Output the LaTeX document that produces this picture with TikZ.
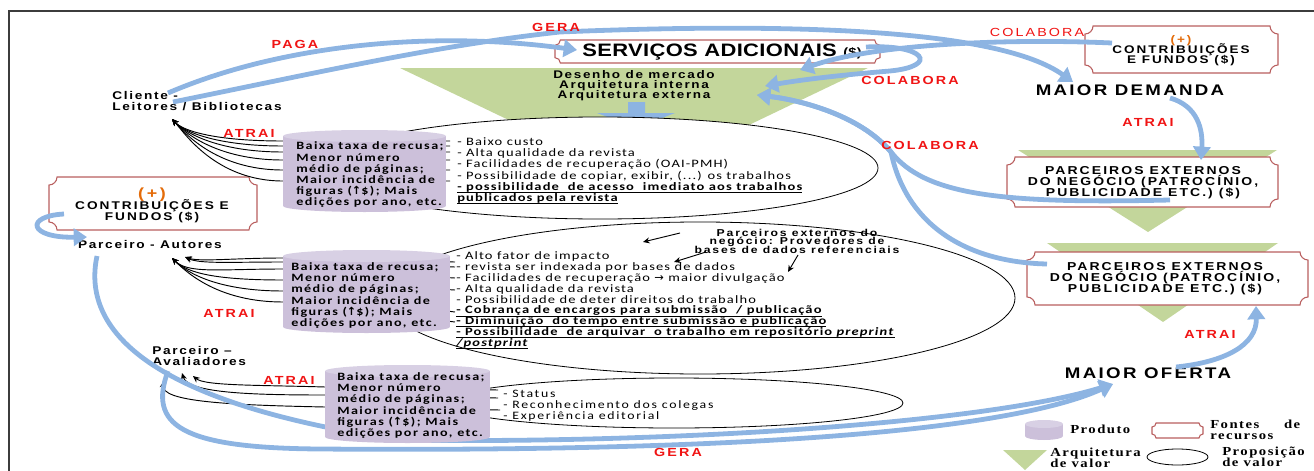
\documentclass[tikz,border=0pt]{standalone}
\usepackage{fontspec}
\usetikzlibrary{arrows.meta,shapes.geometric}
\setmainfont{Carlito}
\lineskiplimit=-20pt
\newfontfamily\fA[FakeStretch=1.22,LetterSpace=15]{Liberation Sans}
\newfontfamily\fAL[FakeStretch=1.22,LetterSpace=18]{Liberation Sans}
\newfontfamily\fAP[FakeStretch=1.22,LetterSpace=18]{Liberation Sans}
\newfontfamily\fAS[FakeStretch=1.22,LetterSpace=2]{Liberation Sans}
\newfontfamily\fC[FakeStretch=1.28,LetterSpace=10]{Carlito}
\newfontfamily\fCB[FakeStretch=1.26,LetterSpace=13]{Carlito}
\newfontfamily\fCW[FakeStretch=1.22,LetterSpace=15]{Carlito}
\newfontfamily\fS[FakeStretch=1.2,LetterSpace=12]{Liberation Serif}
\newfontfamily\fD{DejaVu Sans}
\definecolor{arrblue}{RGB}{141,180,226}
\definecolor{archgreen}{RGB}{195,214,155}
\definecolor{cylbody}{RGB}{204,192,218}
\definecolor{cyltop}{RGB}{216,208,228}
\definecolor{plqred}{RGB}{185,95,95}
\definecolor{lblred}{RGB}{240,20,20}
\definecolor{plusor}{RGB}{228,108,10}
\definecolor{framegray}{RGB}{60,60,60}
\newcommand\drawplaque[2]{%
 \draw[plaque] ([xshift=#2]#1.north west) -- ([xshift=-#2]#1.north east)
   arc[start angle=180, end angle=270, radius=#2] -- ([yshift=#2]#1.south east)
   arc[start angle=90, end angle=180, radius=#2] -- ([xshift=#2]#1.south west)
   arc[start angle=0, end angle=90, radius=#2] -- ([yshift=-#2]#1.north west)
   arc[start angle=270, end angle=360, radius=#2] -- cycle;}
\newcommand\ulx[1]{\underline{\smash{#1}}}
\newcommand\cyltxt{Baixa taxa de recusa;\\Menor número\\médio de páginas;\\Maior incidência de\\figuras ({\fD ↑}\$); Mais\\edições por ano, etc.}
\begin{document}
\begin{tikzpicture}[x=0.75pt,y=-0.75pt,
  barrow/.style={draw=arrblue,line width=3.6pt,-{Triangle[length=10pt,width=13pt]}},
  blk/.style={draw=black,line width=0.7pt,-{Stealth[length=5pt,width=4.5pt]}},
  lbl/.style={text=lblred,font=\fAL\bfseries\fontsize{8.8}{9}\selectfont,inner sep=0pt},
  lblr/.style={text=lblred,font=\fAL\fontsize{8.8}{9}\selectfont,inner sep=0pt},
  plq/.style={draw=none,inner sep=0pt,outer sep=0pt},
  plaque/.style={draw=plqred,line width=0.8pt,fill=white},
  prop/.style={ellipse,draw=black,line width=0.6pt,fill=white,inner sep=0pt,outer sep=0pt},
  actor/.style={font=\fA\bfseries\fontsize{8.4}{8.25}\selectfont,align=left,inner sep=0pt},
  big/.style={font=\fA\bfseries\fontsize{11.5}{12}\selectfont,inner sep=0pt},
  ptext/.style={font=\fAP\bfseries\fontsize{8.6}{8.25}\selectfont,align=center,inner sep=0pt},
  etext/.style={font=\fC\fontsize{8.5}{8.4}\selectfont,align=left,inner sep=0pt,anchor=west},
  ctext/.style={font=\fCB\bfseries\fontsize{8.4}{8.4}\selectfont,align=left,inner sep=0pt,anchor=west},
  legtext/.style={font=\fS\bfseries\fontsize{9.2}{8.25}\selectfont,align=left,inner sep=0pt,anchor=west},
]
\useasboundingbox (0,0) rectangle (1314,471);
% frame
\draw[framegray,line width=1pt] (9,471) -- (9,11) -- (1314,11);
% value architecture triangles
\fill[archgreen] (400,68) -- (868,68) -- (634,180) -- cycle;
\fill[archgreen] (1018,150) -- (1277,150) -- (1148,232) -- cycle;
\fill[archgreen] (1047,243) -- (1278,243) -- (1163,322) -- cycle;
\node[font=\fA\bfseries\fontsize{8.3}{7.5}\selectfont,align=center,inner sep=0pt] (arq) at (634,86) {Desenho de mercado\\Arquitetura interna\\Arquitetura externa};
\fill[arrblue] (628,102) -- (645,102) -- (645,113) -- (675,113) -- (636,128) -- (597,113) -- (628,113) -- cycle;
% resource plaques
\node[plq,minimum width=243.75pt,minimum height=17.25pt] (servicos) at (717.5,51.5) {};
\drawplaque{servicos}{4pt}
\node[font=\fAS\bfseries\fontsize{13.5}{14}\selectfont,inner sep=0pt] (servicosT) at (722,52) {SERVIÇOS ADICIONAIS {\fontsize{9}{9}\selectfont(\$)}};
\node[plq,minimum width=144.75pt,minimum height=35.25pt] (contribA) at (1181.5,49.5) {};
\drawplaque{contribA}{6pt}
\node[font=\fAP\bfseries\fontsize{8.3}{7.5}\selectfont,align=center,inner sep=0pt] (contribAT) at (1181,51) {{\color{plusor}(+)}\\CONTRIBUIÇÕES\\E FUNDOS (\$)};
\node[plq,minimum width=156pt,minimum height=39.75pt] (contribB) at (153,203.5) {};
\drawplaque{contribB}{6pt}
\node[font=\fAP\bfseries\fontsize{8.4}{8.25}\selectfont,align=center,inner sep=0pt] (contribBT) at (152,205) {{\color{plusor}\fontsize{11}{9}\selectfont(+)}\\CONTRIBUIÇÕES E\\FUNDOS (\$)};
\node[plq,minimum width=203.25pt,minimum height=37.5pt] (parcA) at (1142.5,182) {};
\drawplaque{parcA}{6pt}
\node[ptext] (parcAT) at (1143,183) {PARCEIROS EXTERNOS\\DO NEGÓCIO (PATROCÍNIO,\\PUBLICIDADE ETC.) (\$)};
\node[plq,minimum width=210.75pt,minimum height=39.75pt] (parcB) at (1167.5,278.5) {};
\drawplaque{parcB}{6pt}
\node[ptext] (parcBT) at (1165,278.5) {PARCEIROS EXTERNOS\\DO NEGÓCIO (PATROCÍNIO,\\PUBLICIDADE ETC.) (\$)};
% value propositions
\node[prop,minimum width=417pt,minimum height=76.5pt] (ellA) at (600,168) {};
\node[prop,minimum width=472.5pt,minimum height=114pt] (ellB) at (700,298) {};
\node[prop,minimum width=343.5pt,minimum height=37.5pt] (ellC) at (674,403) {};
% actors
\node[actor,anchor=west] (cliente) at (112,101.5) {Cliente -\\Leitores / Bibliotecas};
\node[actor] (autores) at (150,244) {Parceiro - Autores};
\node[actor,anchor=west] (avaliadores) at (152,356) {Parceiro –\\Avaliadores};
\node[big] (demanda) at (1130,90) {MAIOR DEMANDA};
\node[big] (oferta) at (1148,373) {MAIOR OFERTA};
% black attraction arrows (start behind the products)
\coordinate (tCli) at (172,119);
\foreach \y in {141,146,152,160,170,181}
  \draw[blk] (450,\y) -- (283,\y) .. controls (215,\y) and (183,131) .. (tCli);
\coordinate (tAutA) at (172,258);
\coordinate (tAutB) at (185,257);
\draw[blk] (455,262) -- (283,258) .. controls (235,258) and (200,262) .. (tAutB);
\draw[blk] (455,267) -- (283,262) .. controls (230,262) and (200,264) .. (tAutB);
\foreach \ys/\ye in {278/269,290/280,312/291,322/302}
  \draw[blk] (455,\ys) -- (283,\ye) .. controls (220,\ye) and (188,274) .. (tAutA);
\coordinate (tAvaA) at (193,376);
\coordinate (tAvaB) at (182,373);
\coordinate (tAvaC) at (164,381);
\draw[blk] (498,390) -- (325,387) .. controls (260,385) and (205,386) .. (tAvaA);
\draw[blk] (498,398) -- (325,395) .. controls (250,395) and (188,393) .. (tAvaB);
\draw[blk] (500,410) -- (325,407) .. controls (230,405) and (160,402) .. (tAvaC);
% blue flows
\coordinate (sCliA) at (168,93);
\coordinate (sCliB) at (173,102);
\coordinate (eServ) at (577,50);
\coordinate (eDem) at (1073,82);
\draw[barrow] (sCliA) .. controls (280,45) and (430,30) .. (eServ);
\draw[barrow] (sCliB) .. controls (330,70) and (440,45) .. (560,32) .. controls (800,22) and (1000,30) .. (eDem);
\coordinate (sCon) at (1112,43);
\coordinate (tArcA) at (800,70);
\coordinate (sServR) at (866,47);
\coordinate (tArcB) at (765,86);
\coordinate (tArcC) at (757,95);
\draw[barrow] (sCon) .. controls (1000,38) and (870,45) .. (tArcA);
\draw[barrow] (sServR) .. controls (925,44) and (940,66) .. (890,71) .. controls (840,75) and (800,80) .. (tArcB);
\coordinate (sParA) at (1170,200);
\coordinate (sParB) at (1047,264);
\draw[barrow] (sParA) .. controls (1000,204) and (925,195) .. (891,152) .. controls (860,115) and (800,100) .. (tArcC);
\draw[barrow] (sParB) .. controls (960,262) and (905,220) .. (891,152) .. controls (860,115) and (800,100) .. (tArcC);
\coordinate (sDem) at (1170,98);
\coordinate (tParA) at (1201,160);
\draw[barrow] (sDem) .. controls (1198,106) and (1203,130) .. (tParA);
\coordinate (sOf) at (1176,367);
\coordinate (tParB) at (1256,306);
\draw[barrow] (sOf) .. controls (1225,362) and (1257,345) .. (tParB);
\coordinate (sAut) at (97,256);
\coordinate (sAva) at (168,371);
\coordinate (tOf) at (1113,384);
\draw[barrow] (sAut) .. controls (80,335) and (160,405) .. (400,440) .. controls (650,444) and (980,425) .. (tOf);
\draw[barrow] (sAva) .. controls (148,425) and (180,448) .. (320,449) .. controls (700,452) and (1000,435) .. (tOf);
\coordinate (sConB) at (64,214);
\coordinate (tAut2) at (87,237);
\draw[barrow] (sConB) .. controls (25,216) and (28,238) .. (tAut2);
% products (cylinders)
\fill[cylbody] (283,136) rectangle (446,206);
\fill[cylbody] (364.5,206) ellipse [x radius=81.5, y radius=6];
\fill[cyltop] (364.5,136) ellipse [x radius=81.5, y radius=6];
\node[ctext] (prodA) at (296,175) {\cyltxt};
\fill[cylbody] (283,256) rectangle (450,327);
\fill[cylbody] (366.5,327) ellipse [x radius=83.5, y radius=6];
\fill[cyltop] (366.5,256) ellipse [x radius=83.5, y radius=6];
\node[ctext] (prodB) at (291,295.5) {\cyltxt};
\fill[cylbody] (325,371) rectangle (490,437);
\fill[cylbody] (407.5,437) ellipse [x radius=82.5, y radius=6];
\fill[cyltop] (407.5,371) ellipse [x radius=82.5, y radius=6];
\node[ctext] (prodC) at (337,405.5) {\cyltxt};
% value proposition texts
\node[etext] (propA) at (457,171) {- Baixo custo\\- Alta qualidade da revista\\- Facilidades de recuperação (OAI-PMH)\\- Possibilidade de copiar, exibir, (...) os trabalhos\\\textbf{\ulx{- possibilidade \ de acesso \ imediato aos trabalhos}}\\\textbf{\ulx{publicados pela revista}}};
\node[etext,font=\fC\fontsize{8.5}{8.15}\selectfont] (propB) at (456,300.5) {- Alto fator de impacto\\- revista ser indexada por bases de dados\\- Facilidades de recuperação {\fD →} maior divulgação\\- Alta qualidade da revista\\- Possibilidade de deter direitos do trabalho\\\textbf{\ulx{- Cobrança de encargos para submissão \ / publicação}}\\\textbf{\ulx{- Diminuição \ do tempo entre submissão e publicação}}\\\textbf{\ulx{- Possibilidade \ de arquivar \ o trabalho em repositório \textit{preprint}}}\\\textbf{\textit{\ulx{/postprint}}}};
\node[etext,font=\fCW\fontsize{8.5}{8.25}\selectfont] (propC) at (503,406) {- Status\\- Reconhecimento dos colegas\\- Experiência editorial};
% external partners note
\node[font=\fAP\bfseries\fontsize{7.5}{6.4}\selectfont,align=center,inner sep=0pt] (pext) at (797,241) {Parceiros externos do\\negócio: Provedores de\\bases de dados referenciais};
\coordinate (pA) at (680,233); \coordinate (pAt) at (643,242);
\coordinate (pB) at (706,252); \coordinate (pBt) at (674,262);
\coordinate (pC) at (798,255); \coordinate (pCt) at (788,272);
\draw[blk] (pA) -- (pAt);
\draw[blk] (pB) -- (pBt);
\draw[blk] (pC) -- (pCt);
% labels
\node[lbl] at (295,44) {PAGA};
\node[lbl] at (556,27) {GERA};
\node[lblr] at (1037,32) {COLABORA};
\node[lbl] at (910,80) {COLABORA};
\node[lbl] at (930,145) {COLABORA};
\node[lbl] at (249,133) {ATRAI};
\node[lbl] at (229,313) {ATRAI};
\node[lbl] at (289,380) {ATRAI};
\node[lbl] at (1148,122) {ATRAI};
\node[lbl] at (1210,334) {ATRAI};
\node[lbl] at (678,452) {GERA};
% legend
\fill[cylbody] (1025,424) rectangle (1063,436);
\fill[cylbody] (1044,436) ellipse [x radius=19, y radius=4];
\fill[cyltop] (1044,424) ellipse [x radius=19, y radius=4];
\node[legtext] (legP) at (1070,429) {Produto};
\node[plq,minimum width=38.25pt,minimum height=11.25pt] (legF) at (1177.5,430.5) {};
\drawplaque{legF}{3pt}
\node[legtext,text width=67.5pt] (legFT) at (1210,430) {Fontes\hfill de\\recursos};
\fill[archgreen] (1003,450) -- (1047,450) -- (1025,470) -- cycle;
\node[legtext] (legA) at (1050,457.5) {Arquitetura\\de valor};
\node[prop,minimum width=45.75pt,minimum height=12pt] (legE) at (1177.5,457) {};
\node[legtext] (legET) at (1222,456.5) {Proposição\\de valor};
\end{tikzpicture}
\end{document}
